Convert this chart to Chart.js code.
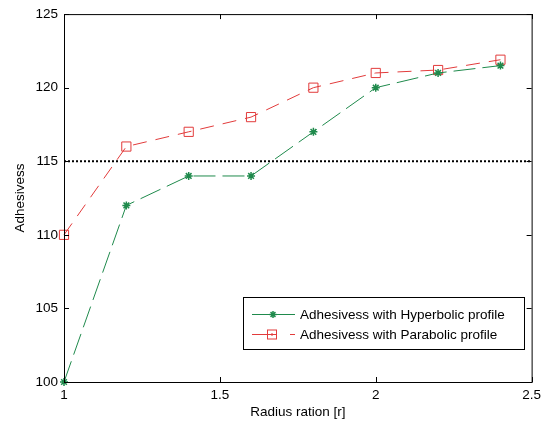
<!DOCTYPE html>
<html><head><meta charset="utf-8">
<script src="https://cdn.jsdelivr.net/npm/chart.js@4.4.0/dist/chart.umd.min.js"></script>
<style>html,body{margin:0;padding:0;background:#fff}#wrap{width:546px;height:421px}</style>
</head><body><div id="wrap"><canvas id="c" width="546" height="421"></canvas></div>
<script>
// Adhesiveness against radius ratio for the two profiles
const radiusRatio = [1.0, 1.2, 1.4, 1.6, 1.8, 2.0, 2.2, 2.4];
const hyperbolic = [100, 112, 114, 114, 117, 120, 121, 121.5];
const parabolic = [110, 116, 117, 118, 120, 121, 121.2, 121.9];
const referenceLevel = 115;
const xTicks = [1, 1.5, 2, 2.5];
const yTicks = [100, 105, 110, 115, 120, 125];
const seriesNames = ['Adhesivess with Hyperbolic profile', 'Adhesivess with Parabolic profile'];
const xTitle = 'Radius ration [r]';
const yTitle = 'Adhesivess';

const GREEN = '#1f8a4c';
const RED = '#e23b3b';
const FONT = '"Liberation Sans", Arial, Helvetica, sans-serif';
const FS = 13.5;

const toPoints = (xs, ys) => xs.map((x, i) => ({ x, y: ys[i] }));

// Axis box with inward ticks on all four sides, plus the boxed legend
const framePlugin = {
  id: 'frame',
  afterDraw(chart) {
    const { ctx, chartArea: a, scales } = chart;
    const tl = 5;
    ctx.save();
    ctx.strokeStyle = '#000';
    ctx.lineWidth = 1;
    ctx.strokeRect(a.left + 0.5, a.top + 0.5, a.right - a.left, a.bottom - a.top);
    ctx.beginPath();
    xTicks.forEach(v => {
      const px = Math.round(scales.x.getPixelForValue(v)) + 0.5;
      ctx.moveTo(px, a.bottom); ctx.lineTo(px, a.bottom - tl);
      ctx.moveTo(px, a.top); ctx.lineTo(px, a.top + tl);
    });
    yTicks.forEach(v => {
      const py = Math.round(scales.y.getPixelForValue(v)) + 0.5;
      ctx.moveTo(a.left, py); ctx.lineTo(a.left + tl, py);
      ctx.moveTo(a.right, py); ctx.lineTo(a.right - tl, py);
    });
    ctx.stroke();

    // legend
    const lx = 243.5, ly = 297.5, lw = 281, lh = 52;
    ctx.fillStyle = '#fff';
    ctx.fillRect(lx, ly, lw, lh);
    ctx.strokeStyle = '#000';
    ctx.strokeRect(lx, ly, lw, lh);
    ctx.font = FS + 'px ' + FONT;
    ctx.fillStyle = '#000';
    ctx.textBaseline = 'middle';
    const rows = [ly + 17, ly + 37];
    // hyperbolic sample
    ctx.strokeStyle = GREEN;
    ctx.beginPath(); ctx.moveTo(252, rows[0]); ctx.lineTo(295, rows[0]); ctx.stroke();
    ctx.lineWidth = 1.5;
    ctx.beginPath();
    const r = 3.5, cx = 273, cy = rows[0];
    ctx.moveTo(cx - r, cy); ctx.lineTo(cx + r, cy);
    ctx.moveTo(cx, cy - r); ctx.lineTo(cx, cy + r);
    ctx.moveTo(cx - r * 0.7, cy - r * 0.7); ctx.lineTo(cx + r * 0.7, cy + r * 0.7);
    ctx.moveTo(cx - r * 0.7, cy + r * 0.7); ctx.lineTo(cx + r * 0.7, cy - r * 0.7);
    ctx.stroke();
    // parabolic sample
    ctx.lineWidth = 1;
    ctx.strokeStyle = RED;
    ctx.beginPath(); ctx.moveTo(252, rows[1]); ctx.lineTo(276, rows[1]); ctx.stroke();
    ctx.beginPath(); ctx.moveTo(290, rows[1]); ctx.lineTo(295, rows[1]); ctx.stroke();
    ctx.strokeRect(267.5, rows[1] - 4.5, 9, 9);
    ctx.fillStyle = RED;
    ctx.fillRect(271, rows[1] - 1, 2, 2);
    ctx.fillStyle = '#000';
    ctx.fillText(seriesNames[0], 300, rows[0] + 1);
    ctx.fillText(seriesNames[1], 300, rows[1] + 1);
    ctx.restore();
  }
};

new Chart(document.getElementById('c'), {
  type: 'line',
  data: {
    datasets: [
      {
        label: 'reference',
        data: [{ x: xTicks[0], y: referenceLevel }, { x: xTicks[xTicks.length - 1], y: referenceLevel }],
        borderColor: '#000', borderWidth: 2, borderDash: [2, 2], pointRadius: 0, clip: false
      },
      {
        label: seriesNames[0],
        data: toPoints(radiusRatio, hyperbolic),
        borderColor: GREEN, borderWidth: 1, borderDash: [22, 7],
        pointStyle: 'star', pointRadius: 4, pointBorderWidth: 1.5,
        pointBorderColor: GREEN, pointBackgroundColor: GREEN, clip: false
      },
      {
        label: seriesNames[1],
        data: toPoints(radiusRatio, parabolic),
        borderColor: RED, borderWidth: 1, borderDash: [14, 9],
        pointStyle: 'rect', pointRadius: 6.5, pointBorderWidth: 1,
        pointBorderColor: RED, pointBackgroundColor: 'rgba(255,255,255,0)', clip: false
      }
    ]
  },
  options: {
    responsive: false,
    animation: false,
    devicePixelRatio: 1,
    layout: { padding: { top: 14, right: 8, left: 0, bottom: 0 } },
    plugins: { legend: { display: false }, tooltip: { enabled: false } },
    elements: { line: { tension: 0 } },
    scales: {
      x: {
        type: 'linear', min: 1, max: 2.5,
        afterBuildTicks: s => { s.ticks = xTicks.map(v => ({ value: v })); },
        afterFit: s => { s.height = 39; },
        grid: { display: false, drawTicks: false },
        border: { display: false },
        ticks: { color: '#000', font: { family: FONT, size: FS }, padding: 5, maxRotation: 0, callback: v => String(v) },
        title: { display: true, text: xTitle, color: '#000', font: { family: FONT, size: FS }, padding: { top: 0, bottom: 1 } }
      },
      y: {
        type: 'linear', min: 100, max: 125,
        afterBuildTicks: s => { s.ticks = yTicks.map(v => ({ value: v })); },
        afterFit: s => { s.width = 64; },
        grid: { display: false, drawTicks: false },
        border: { display: false },
        ticks: { color: '#000', font: { family: FONT, size: FS }, padding: 6, callback: v => String(v) },
        title: { display: true, text: yTitle, color: '#000', font: { family: FONT, size: FS }, padding: { top: 12, bottom: 0 } }
      }
    }
  },
  plugins: [framePlugin]
});
</script>
</body></html>
